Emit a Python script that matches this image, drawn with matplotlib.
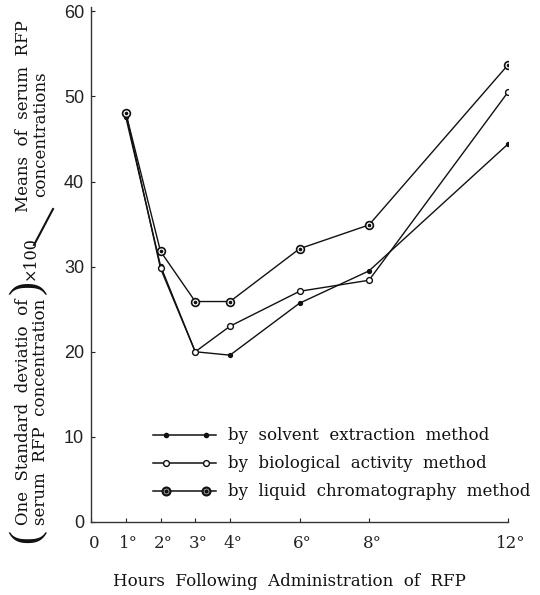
import matplotlib
matplotlib.use("Agg")
import matplotlib.pyplot as plt
import matplotlib.transforms as mtransforms
from matplotlib.lines import Line2D

# Hours after dosing and coefficient of variation (%) for each assay
hours = [1, 2, 3, 4, 6, 8, 12]
solvent_cv = [47.6, 30.1, 20.0, 19.6, 25.7, 29.5, 44.4]
biological_cv = [48.1, 29.8, 20.0, 23.0, 27.1, 28.4, 50.5]
liquid_cv = [48.1, 31.8, 25.9, 25.9, 32.1, 34.9, 53.7]

series_labels = [
    "by  solvent  extraction  method",
    "by  biological  activity  method",
    "by  liquid  chromatography  method",
]
x_ticks = [0, 1, 2, 3, 4, 6, 8, 12]
x_tick_labels = ["0", "1°", "2°", "3°", "4°", "6°", "8°", "12°"]
y_ticks = [0, 10, 20, 30, 40, 50, 60]

W, H = 540, 595
DPI = 100
serif = "DejaVu Serif"

fig = plt.figure(figsize=(W / DPI, H / DPI), dpi=DPI)
fig.patch.set_facecolor("white")


def fx(px):
    return px / W


def fy(py):
    return 1 - py / H


ax = fig.add_axes([fx(91), fy(522), fx(508) - fx(91), fy(7) - fy(522)])
ax.set_xlim(0, 12)
ax.set_ylim(0, 60.5)

ink = "#111111"
lw = 1.0

# solvent extraction: small solid dots
ax.plot(hours, solvent_cv, color=ink, lw=lw, marker="o", ms=2.8,
        mfc=ink, mec=ink, zorder=3)
# biological activity: small open circles
ax.plot(hours, biological_cv, color=ink, lw=lw, marker="o", ms=4.2,
        mfc="white", mec=ink, mew=1.0, zorder=4)
# liquid chromatography: dotted double circle
ax.plot(hours, liquid_cv, color=ink, lw=lw, marker="o", ms=5.6,
        mfc="white", mec=ink, mew=1.2, zorder=5)
ax.plot(hours, liquid_cv, ls="none", marker="o", ms=1.6,
        mfc=ink, mec=ink, zorder=6)

for side in ("top", "right"):
    ax.spines[side].set_visible(False)
for side in ("left", "bottom"):
    ax.spines[side].set_color("#333333")
    ax.spines[side].set_linewidth(1.0)

ax.set_yticks(y_ticks)
ax.set_yticklabels([str(v) for v in y_ticks], family="Liberation Sans",
                   fontsize=13)
ax.set_xticks(x_ticks)
ax.set_xticklabels(x_tick_labels, family=serif, fontsize=12)
ax.tick_params(axis="both", direction="in", length=3, width=0.8,
               colors="#222222")
ax.tick_params(axis="y", pad=5)
ax.tick_params(axis="x", pad=9)
shift = mtransforms.ScaledTranslation(3 / DPI, 0, fig.dpi_scale_trans)
for lab in ax.get_xticklabels():
    lab.set_transform(lab.get_transform() + shift)

# legend drawn by hand
legend_rows = [
    (435, dict(marker="o", ms=3.0, mfc=ink, mec=ink), None),
    (463, dict(marker="o", ms=4.2, mfc="white", mec=ink, mew=1.0), None),
    (491, dict(marker="o", ms=5.6, mfc="white", mec=ink, mew=1.6), 2.2),
]
for (py, mk, dot), label in zip(legend_rows, series_labels):
    fig.add_artist(Line2D([fx(153), fx(216)], [fy(py), fy(py)],
                          color=ink, lw=1.1, transform=fig.transFigure))
    fig.add_artist(Line2D([fx(166), fx(206)], [fy(py), fy(py)], ls="none",
                          color=ink, transform=fig.transFigure, **mk))
    if dot:
        fig.add_artist(Line2D([fx(166), fx(206)], [fy(py), fy(py)],
                              ls="none", marker="o", ms=dot, mfc=ink,
                              mec=ink, transform=fig.transFigure))
    fig.text(fx(228), fy(py + 1), label, family=serif, fontsize=12.0,
             ha="left", va="center", color=ink)

# x axis title
fig.text(fx(289), fy(581), "Hours  Following  Administration  of  RFP",
         family=serif, fontsize=12, ha="center", va="center", color=ink)

# y axis title built from pieces
ytxt = dict(family=serif, fontsize=12, rotation=90, color=ink,
            ha="center", va="bottom")
fig.text(fx(24), fy(525), "One  Standard  deviatio  of", **ytxt)
fig.text(fx(41), fy(525), "serum  RFP  concentration", **ytxt)
fig.text(fx(24), fy(212), "Means  of  serum  RFP", **ytxt)
fig.text(fx(41), fy(197), "concentrations", **ytxt)
fig.text(fx(30), fy(280), "×100", **{**ytxt, "fontsize": 11.5})

paren = dict(family="Liberation Serif", fontsize=30, rotation=90,
             color=ink, ha="center", va="center")
fig.text(fx(27), fy(536), "(", **paren)
fig.text(fx(27), fy(287), ")", **paren)
fig.add_artist(Line2D([fx(34), fx(53)], [fy(245), fy(209)], color=ink,
                      lw=1.5, transform=fig.transFigure))

fig.savefig("out.png", dpi=DPI, facecolor="white")
